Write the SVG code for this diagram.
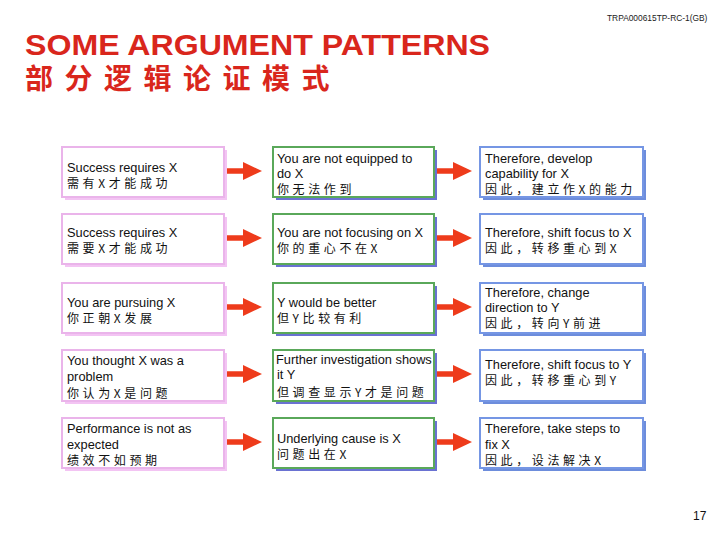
<svg xmlns="http://www.w3.org/2000/svg" xmlns:xlink="http://www.w3.org/1999/xlink" width="720" height="540" viewBox="0 0 720 540">
<style>
  .bg{fill:#ffffff}
  .t{font-family:"Liberation Sans",Arial,"Noto Sans CJK SC",sans-serif;font-size:12.8px;fill:#111}
  .c{font-family:"Noto Sans CJK SC","Liberation Sans",sans-serif;font-size:12px;letter-spacing:3.6px;fill:#111}
  .title{font-family:"Liberation Sans",Arial,sans-serif;font-weight:bold;font-size:30px;fill:#d9261c}
  .ctitle{font-family:"Noto Sans CJK SC",sans-serif;font-weight:bold;font-size:28px;letter-spacing:11.5px;fill:#d9261c}
  .code{font-family:"Liberation Sans",Arial,sans-serif;font-size:8.4px;fill:#222}
  .pg{font-family:"Liberation Sans",Arial,sans-serif;font-size:12px;fill:#111}
  .ps{fill:#f3c4f3}
  .pb{fill:#fff;stroke:#eab4ea;stroke-width:2}
  .gs{fill:#6a72d2}
  .gb{fill:#fff;stroke:#5aa85a;stroke-width:2}
  .bs{fill:#6d8ddc}
  .bb{fill:#fff;stroke:#7596e4;stroke-width:2}
  .arr{fill:#ee3b1b}
</style>
<defs>
  <path id="arrow" d="M0,-2.8 H16 V-9 L35,0 L16,9 V2.8 H0 Z"/>
</defs>
<rect class="bg" x="0" y="0" width="720" height="540"/>

<text class="code" x="607" y="21">TRPA000615TP-RC-1(GB)</text>
<text class="title" x="25" y="55" textLength="465" lengthAdjust="spacingAndGlyphs">SOME ARGUMENT PATTERNS</text>
<text class="ctitle" x="25" y="88.5">部分逻辑论证模式</text>

<g id="connectors">
  <use class="arr" href="#arrow" x="227" y="171"/>
  <use class="arr" href="#arrow" x="437" y="171"/>
  <use class="arr" href="#arrow" x="227" y="238"/>
  <use class="arr" href="#arrow" x="437" y="238"/>
  <use class="arr" href="#arrow" x="227" y="307"/>
  <use class="arr" href="#arrow" x="437" y="307"/>
  <use class="arr" href="#arrow" x="227" y="374"/>
  <use class="arr" href="#arrow" x="437" y="374"/>
  <use class="arr" href="#arrow" x="227" y="442"/>
  <use class="arr" href="#arrow" x="437" y="442"/>
</g>

<!-- Row 1 -->
<g id="r1a">
  <rect class="ps" x="65" y="150" width="162" height="50"/>
  <rect class="pb" x="62" y="147" width="162" height="50"/>
  <text class="t" x="67" y="171.5">Success requires X</text>
  <text class="c" x="67" y="188">需有X才能成功</text>
</g>
<g id="r1b">
  <rect class="gs" x="276" y="150" width="161" height="50"/>
  <rect class="gb" x="273" y="147" width="161" height="50"/>
  <text class="t" x="277" y="162.5">You are not equipped to</text>
  <text class="t" x="277" y="178">do X</text>
  <text class="c" x="277" y="193.5">你无法作到</text>
</g>
<g id="r1c">
  <rect class="bs" x="483" y="150" width="163" height="50"/>
  <rect class="bb" x="480" y="147" width="163" height="50"/>
  <text class="t" x="485" y="162.5">Therefore, develop</text>
  <text class="t" x="485" y="178">capability for X</text>
  <text class="c" x="485" y="193.5">因此，建立作X的能力</text>
</g>

<!-- Row 2 -->
<g id="r2a">
  <rect class="ps" x="65" y="217" width="162" height="50"/>
  <rect class="pb" x="62" y="214" width="162" height="50"/>
  <text class="t" x="67" y="236.5">Success requires X</text>
  <text class="c" x="67" y="252.5">需要X才能成功</text>
</g>
<g id="r2b">
  <rect class="gs" x="276" y="217" width="161" height="50"/>
  <rect class="gb" x="273" y="214" width="161" height="50"/>
  <text class="t" x="277" y="236.5">You are not focusing on X</text>
  <text class="c" x="277" y="252.5">你的重心不在X</text>
</g>
<g id="r2c">
  <rect class="bs" x="483" y="217" width="163" height="50"/>
  <rect class="bb" x="480" y="214" width="163" height="50"/>
  <text class="t" x="485" y="236.5">Therefore, shift focus to X</text>
  <text class="c" x="485" y="252.5">因此，转移重心到X</text>
</g>

<!-- Row 3 -->
<g id="r3a">
  <rect class="ps" x="65" y="286" width="162" height="50"/>
  <rect class="pb" x="62" y="283" width="162" height="50"/>
  <text class="t" x="67" y="306.5">You are pursuing X</text>
  <text class="c" x="67" y="322.5">你正朝X发展</text>
</g>
<g id="r3b">
  <rect class="gs" x="276" y="286" width="161" height="50"/>
  <rect class="gb" x="273" y="283" width="161" height="50"/>
  <text class="t" x="277" y="306.5">Y would be better</text>
  <text class="c" x="277" y="322.5">但Y比较有利</text>
</g>
<g id="r3c">
  <rect class="bs" x="483" y="286" width="163" height="50"/>
  <rect class="bb" x="480" y="283" width="163" height="50"/>
  <text class="t" x="485" y="296.5">Therefore, change</text>
  <text class="t" x="485" y="312">direction to Y</text>
  <text class="c" x="485" y="327.5">因此，转向Y前进</text>
</g>

<!-- Row 4 -->
<g id="r4a">
  <rect class="ps" x="65" y="353" width="162" height="51"/>
  <rect class="pb" x="62" y="350" width="162" height="51"/>
  <text class="t" x="67" y="364.5">You thought X was a</text>
  <text class="t" x="67" y="381">problem</text>
  <text class="c" x="67" y="397.5">你认为X是问题</text>
</g>
<g id="r4b">
  <rect class="gs" x="276" y="353" width="161" height="51"/>
  <rect class="gb" x="273" y="350" width="161" height="51"/>
  <text class="t" x="276" y="363.5">Further investigation shows</text>
  <text class="t" x="277" y="379">it Y</text>
  <text class="c" x="277" y="396.5">但调查显示Y才是问题</text>
</g>
<g id="r4c">
  <rect class="bs" x="483" y="353" width="163" height="51"/>
  <rect class="bb" x="480" y="350" width="163" height="51"/>
  <text class="t" x="485" y="368.5">Therefore, shift focus to Y</text>
  <text class="c" x="485" y="384.5">因此，转移重心到Y</text>
</g>

<!-- Row 5 -->
<g id="r5a">
  <rect class="ps" x="65" y="421" width="162" height="50"/>
  <rect class="pb" x="62" y="418" width="162" height="50"/>
  <text class="t" x="67" y="432.5">Performance is not as</text>
  <text class="t" x="67" y="448.5">expected</text>
  <text class="c" x="67" y="464.5">绩效不如预期</text>
</g>
<g id="r5b">
  <rect class="gs" x="276" y="421" width="161" height="50"/>
  <rect class="gb" x="273" y="418" width="161" height="50"/>
  <text class="t" x="277" y="442.5">Underlying cause is X</text>
  <text class="c" x="277" y="458.5">问题出在X</text>
</g>
<g id="r5c">
  <rect class="bs" x="483" y="421" width="163" height="50"/>
  <rect class="bb" x="480" y="418" width="163" height="50"/>
  <text class="t" x="485" y="432.5">Therefore, take steps to</text>
  <text class="t" x="485" y="448.5">fix X</text>
  <text class="c" x="485" y="464.5">因此，设法解决X</text>
</g>

<text class="pg" x="693" y="520">17</text>
</svg>
